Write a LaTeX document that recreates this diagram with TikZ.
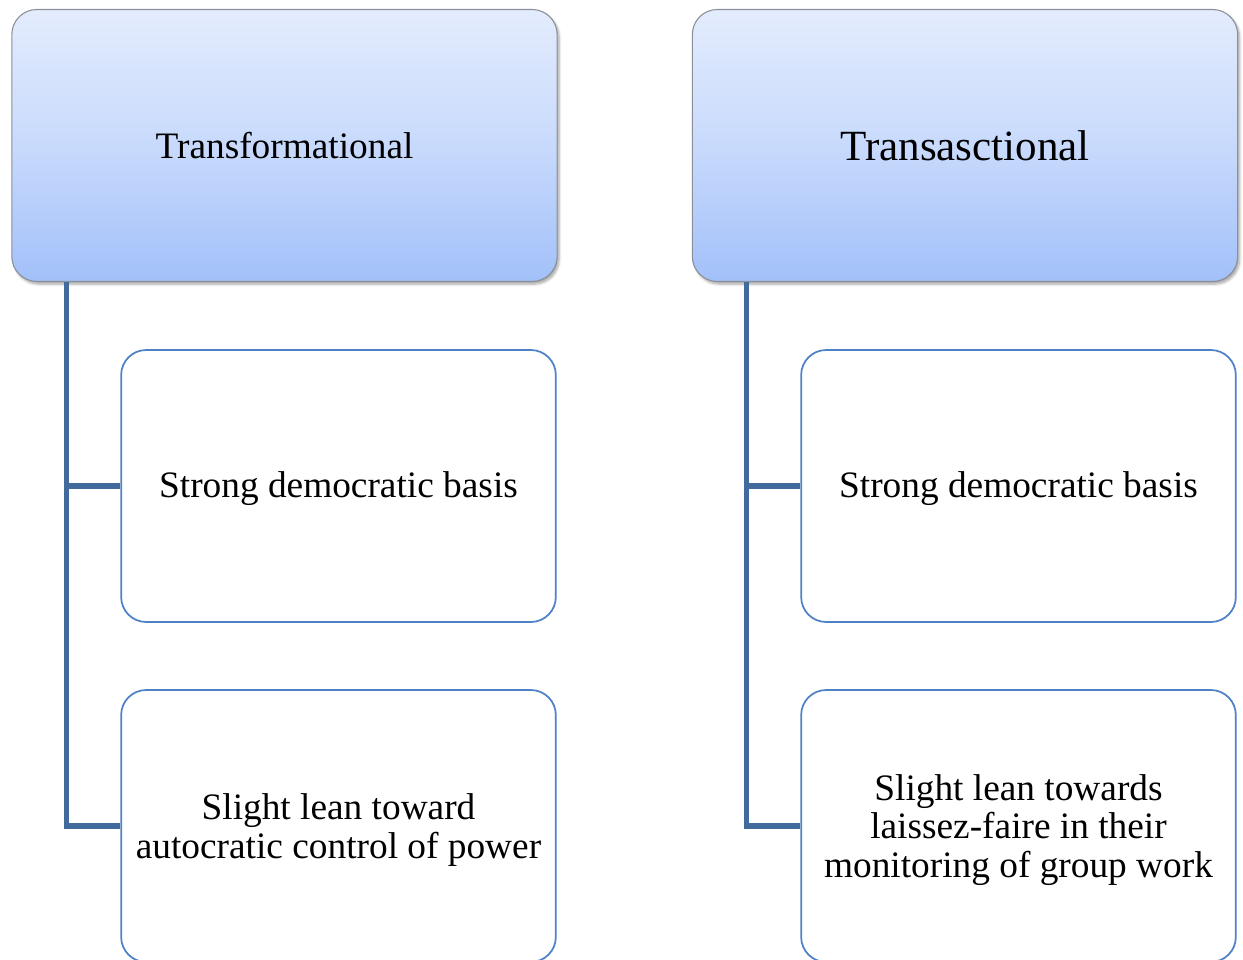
\documentclass[tikz,border=0pt]{standalone}
\usepackage{fontspec}
\setmainfont{Liberation Serif}
\usetikzlibrary{shadows.blur}
\definecolor{headtop}{HTML}{E3ECFD}
\definecolor{headmid}{HTML}{C8DAFC}
\definecolor{headbot}{HTML}{A2C0F9}
\definecolor{headedge}{HTML}{8A8F98}
\definecolor{itemedge}{HTML}{4F81C7}
\definecolor{linkblue}{HTML}{416A9D}
\newcommand{\toppad}{\rule{0pt}{25.5pt}}
\tikzset{
  headbox/.style={rectangle, rounded corners=18.75pt, draw=headedge, line width=0.8pt,
    top color=headtop, bottom color=headbot, middle color=headmid,
    minimum width=409pt, minimum height=204pt, align=center, inner sep=0pt,
    blur shadow={shadow xshift=1.5pt, shadow yshift=-2pt, shadow blur steps=6, shadow opacity=35}},
  itembox/.style={rectangle, rounded corners=18.75pt, draw=itemedge, line width=1.3pt,
    fill=white, minimum width=326pt, minimum height=204pt, align=center, inner sep=0pt,
    font=\fontsize{28pt}{29pt}\selectfont},
  link/.style={draw=linkblue, line width=3.8pt}
}
\begin{document}
\begin{tikzpicture}[x=0.75pt,y=-0.75pt]
\useasboundingbox (0,0) rectangle (1243,960);
% left column
\node[headbox, font=\fontsize{28pt}{29pt}\selectfont] (tf) at (284.5,145.5) {Transformational};
\node[itembox] (tf1) at (338.5,486) {\rule{0pt}{24pt}Strong democratic basis};
\node[itembox] (tf2) at (338.5,826) {\toppad Slight lean toward\\autocratic control of power};
% right column
\node[headbox, font=\fontsize{32.3pt}{33pt}\selectfont] (ta) at (965,145.5) {Transasctional};
\node[itembox] (ta1) at (1018.5,486) {\rule{0pt}{24pt}Strong democratic basis};
\node[itembox] (ta2) at (1018.5,826) {\toppad Slight lean towards\\laissez-faire in their\\monitoring of group work};
% connectors
\draw[link] ([xshift=41.25pt]tf.south west) |- (tf1.west);
\draw[link] ([xshift=41.25pt]tf.south west) |- (tf2.west);
\draw[link] ([xshift=41.25pt]ta.south west) |- (ta1.west);
\draw[link] ([xshift=41.25pt]ta.south west) |- (ta2.west);
\end{tikzpicture}
\end{document}
